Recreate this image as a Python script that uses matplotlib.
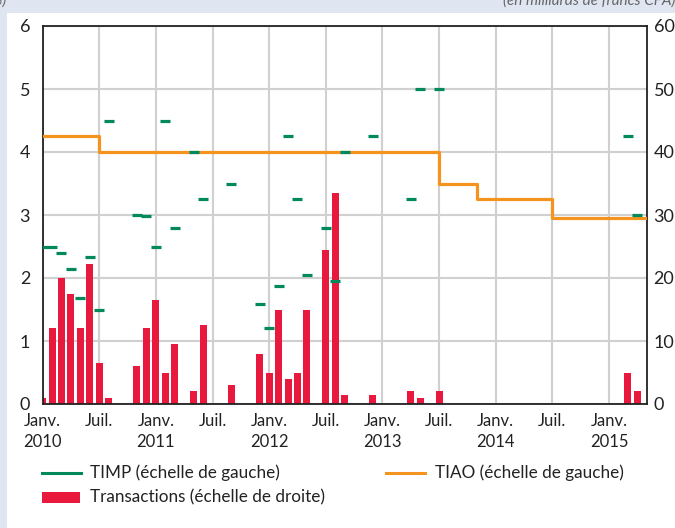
import matplotlib
matplotlib.use("Agg")
import matplotlib.pyplot as plt
from matplotlib.lines import Line2D
from matplotlib.patches import Rectangle

plt.rcParams['font.family'] = ['Lato', 'DejaVu Sans']

# ---- data (months as "YYYY-MM") ----
bar_dates = ["2010-01", "2010-02", "2010-03", "2010-04", "2010-05", "2010-06", "2010-07", "2010-08",
             "2010-11", "2010-12", "2011-01", "2011-02", "2011-03", "2011-05", "2011-06", "2011-09",
             "2011-12", "2012-01", "2012-02", "2012-03", "2012-04", "2012-05", "2012-07", "2012-08",
             "2012-09", "2012-12", "2013-04", "2013-05", "2013-07", "2015-03", "2015-04"]
bar_values = [1, 12, 20, 17.5, 12, 22.2, 6.5, 1,
              6, 12, 16.5, 5, 9.5, 2, 12.5, 3,
              8, 5, 15, 4, 5, 15, 24.5, 33.5,
              1.5, 1.5, 2, 1, 2, 5, 2]

timp_dates = ["2010-01", "2010-02", "2010-03", "2010-04", "2010-05", "2010-06", "2010-07", "2010-08",
              "2010-11", "2010-12", "2011-01", "2011-02", "2011-03", "2011-05", "2011-06", "2011-09",
              "2011-12", "2012-01", "2012-02", "2012-03", "2012-04", "2012-05", "2012-07", "2012-08",
              "2012-09", "2012-12", "2013-04", "2013-05", "2013-07", "2015-03", "2015-04"]
timp_values = [2.5, 2.5, 2.4, 2.15, 1.68, 2.34, 1.5, 4.5,
               3.0, 2.98, 2.5, 4.5, 2.8, 4.0, 3.25, 3.5,
               1.58, 1.2, 1.88, 4.25, 3.25, 2.05, 2.8, 1.96,
               4.0, 4.25, 3.25, 5.0, 5.0, 4.25, 3.0]

tiao_dates = ["2010-01", "2010-07", "2013-07", "2013-11", "2014-07", "2015-05"]
tiao_values = [4.25, 4.0, 3.5, 3.25, 2.95, 2.95]

tick_dates = ["2010-01", "2010-07", "2011-01", "2011-07", "2012-01", "2012-07", "2013-01",
              "2013-07", "2014-01", "2014-07", "2015-01"]
tick_labels = ["Janv.\n2010", "Juil.", "Janv.\n2011", "Juil.", "Janv.\n2012", "Juil.",
               "Janv.\n2013", "Juil.", "Janv.\n2014", "Juil.", "Janv.\n2015"]

left_ticks = [0, 1, 2, 3, 4, 5, 6]
right_ticks = [0, 10, 20, 30, 40, 50, 60]

legend_labels = ["TIMP (échelle de gauche)", "TIAO (échelle de gauche)",
                 "Transactions (échelle de droite)"]
top_note = "(en milliards de francs CFA)"
left_note = "(en %)"


def midx(d):
    y, m = d.split("-")
    return (int(y) - 2010) * 12 + int(m) - 1


GREEN = "#00895c"
RED = "#e8193c"
ORANGE = "#f5931f"
GRID = "#d0d0d0"
BG = "#dfe6f2"
TXT = "#222222"

W, H = 675, 528
fig = plt.figure(figsize=(W / 100, H / 100), dpi=100)
fig.patch.set_facecolor(BG)
fig.add_artist(Rectangle((7 / W, 0), 1, (H - 13) / H, transform=fig.transFigure,
                         facecolor="white", edgecolor="none", zorder=0))

fig.text(503 / W, 1 - 5 / H, top_note, ha="left", va="baseline", fontsize=11,
         style="italic", color="#666666")
fig.text(6 / W, 1 - 5 / H, left_note, ha="right", va="baseline", fontsize=11,
         style="italic", color="#666666")

ax_b = fig.add_axes([42.6 / W, 1 - 404 / H, (646.7 - 42.6) / W, (404 - 26) / H])
ax_b.set_facecolor("none")
ax_b.bar([midx(d) for d in bar_dates], bar_values, width=0.74, color=RED, zorder=2)
ax_b.set_ylim(0, 60)
ax_b.set_xlim(0, 64)
ax_b.set_yticks(right_ticks)
ax_b.set_xticks([midx(d) for d in tick_dates])
ax_b.set_xticklabels(tick_labels, fontsize=12, color=TXT, linespacing=1.4)
ax_b.grid(True, color=GRID, linewidth=1.5)
ax_b.set_axisbelow(True)
for s in ax_b.spines.values():
    s.set_color("#222222")
    s.set_linewidth(1.3)

ax_r = ax_b.twinx()
ax_b.yaxis.tick_right()
ax_r.yaxis.tick_left()
ax_b.tick_params(axis="both", length=0, labelsize=13, colors=TXT)
ax_b.tick_params(axis="y", pad=5)
ax_b.tick_params(axis="x", pad=6.5, labelsize=12)
ax_r.set_ylim(0, 6)
ax_r.set_yticks(left_ticks)
ax_r.tick_params(axis="y", length=0, labelsize=13, colors=TXT, pad=9)
for s in ax_r.spines.values():
    s.set_visible(False)

ax_r.step([midx(d) for d in tiao_dates], tiao_values, where="post", color=ORANGE,
          linewidth=2.3, zorder=3)
ax_r.plot([midx(d) for d in timp_dates], timp_values, linestyle="none", marker="_",
          markersize=7.4, markeredgewidth=2.3, color=GREEN, zorder=4)

# legend
fig.add_artist(Line2D([42 / W, 81 / W], [1 - 472.5 / H] * 2, color=GREEN, linewidth=2.2,
                      transform=fig.transFigure))
fig.text(90 / W, 1 - 472.5 / H, legend_labels[0], ha="left", va="center", fontsize=12.3, color=TXT)
fig.add_artist(Line2D([386 / W, 425 / W], [1 - 472.5 / H] * 2, color=ORANGE, linewidth=2.2,
                      transform=fig.transFigure))
fig.text(435 / W, 1 - 472.5 / H, legend_labels[1], ha="left", va="center", fontsize=12.3, color=TXT)
fig.add_artist(Rectangle((42 / W, 1 - 503 / H), 38 / W, 11 / H, facecolor=RED, edgecolor="none",
                         transform=fig.transFigure))
fig.text(90 / W, 1 - 497.5 / H, legend_labels[2], ha="left", va="center", fontsize=12.3, color=TXT)

fig.savefig("out.png", dpi=100, facecolor=fig.get_facecolor())
